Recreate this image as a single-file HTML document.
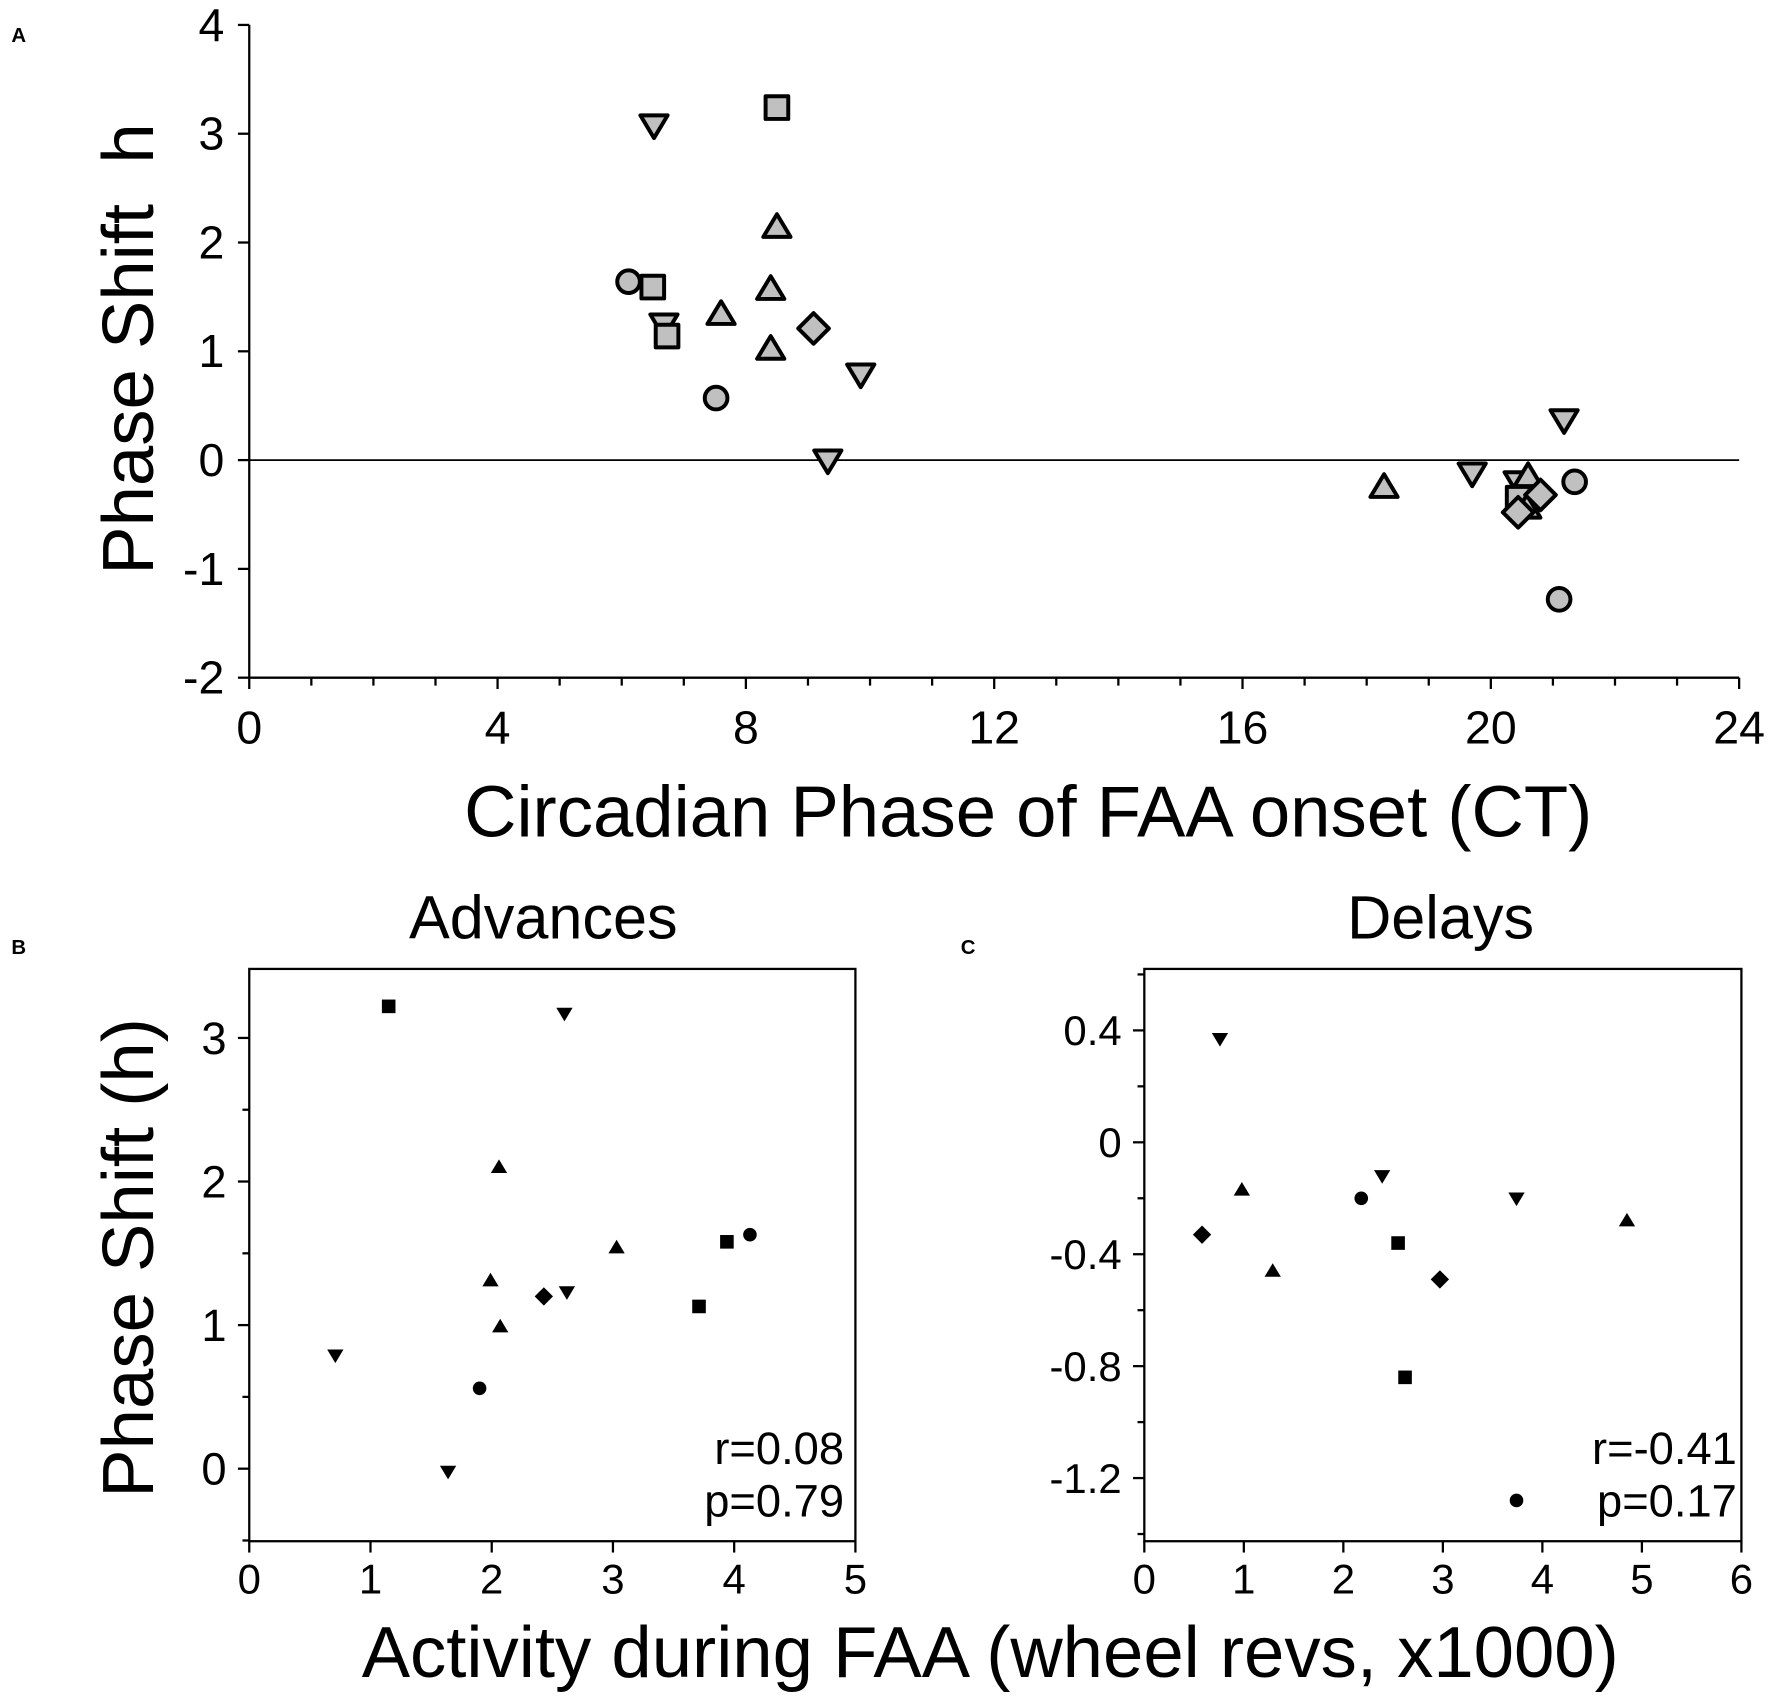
<!DOCTYPE html>
<html><head><meta charset="utf-8"><style>
body{margin:0;background:#fff}
svg text{font-family:"Liberation Sans",Arial,sans-serif;fill:#000;white-space:pre}
</style></head><body>
<svg id="fig" width="1772" height="1701" viewBox="0 0 1564 1501" preserveAspectRatio="none" xmlns="http://www.w3.org/2000/svg"></svg>
<script>
// Panel A data
const aShapes=['dtri','sq','tri','circ','sq','dtri','sq','tri','tri','tri','dia','dtri','circ','dtri','tri','dtri','dtri','circ','circ','dtri','tri','sq','tri','dia','dia'];
const aX=[6.52,8.5,8.5,6.11,6.5,6.68,6.73,7.6,8.4,8.4,9.09,9.85,7.52,9.32,18.28,19.7,21.18,21.35,21.1,20.44,20.6,20.44,20.58,20.8,20.44];
const aY=[3.08,3.24,2.14,1.64,1.59,1.25,1.14,1.34,1.57,1.02,1.21,0.79,0.57,0.0,-0.25,-0.12,0.37,-0.2,-1.28,-0.2,-0.15,-0.35,-0.44,-0.32,-0.48];
const aXTicks=[0,4,8,12,16,20,24];
const aYTicks=[-2,-1,0,1,2,3,4];
// Panel B data
const bShapes=['sq','dtri','tri','tri','tri','tri','dia','dtri','sq','circ','sq','dtri','circ','dtri'];
const bX=[1.15,2.6,2.06,1.99,2.07,3.03,2.43,2.62,3.94,4.13,3.71,0.71,1.9,1.64];
const bY=[3.22,3.17,2.1,1.31,0.99,1.54,1.2,1.23,1.58,1.63,1.13,0.79,0.56,-0.02];
const bXTicks=[0,1,2,3,4,5];
const bYTicks=[0,1,2,3];
// Panel C data
const cShapes=['dtri','tri','dia','tri','circ','dtri','sq','dia','sq','dtri','tri','circ'];
const cX=[0.76,0.98,0.58,1.29,2.18,2.39,2.55,2.97,2.62,3.74,4.85,3.74];
const cY=[0.37,-0.17,-0.33,-0.46,-0.2,-0.12,-0.36,-0.49,-0.84,-0.2,-0.28,-1.28];
const cXTicks=[0,1,2,3,4,5,6];
const cYTicks=[-1.2,-0.8,-0.4,0,0.4];

const svg=document.getElementById('fig');
const NS='http://www.w3.org/2000/svg';
function mk(tag,attrs,parent){const e=document.createElementNS(NS,tag);for(const k in attrs)e.setAttribute(k,attrs[k]);(parent||svg).appendChild(e);return e;}
function txt(s,x,y,size,anchor,parent,extra){const t=mk('text',Object.assign({x:x,y:y,'font-size':size,'text-anchor':anchor||'middle'},extra||{}),parent);t.textContent=s;return t;}
function marker(shape,cx,cy,r,fill,sw,g){
  let e;
  if(shape==='circ')e=mk('circle',{cx:cx,cy:cy,r:r},g);
  else if(shape==='sq')e=mk('rect',{x:cx-r,y:cy-r,width:2*r,height:2*r},g);
  else if(shape==='tri')e=mk('polygon',{points:`${cx},${cy-r*1.15} ${cx-r*1.2},${cy+r*0.85} ${cx+r*1.2},${cy+r*0.85}`},g);
  else if(shape==='dtri')e=mk('polygon',{points:`${cx},${cy+r*1.15} ${cx-r*1.2},${cy-r*0.85} ${cx+r*1.2},${cy-r*0.85}`},g);
  else e=mk('polygon',{points:`${cx},${cy-r*1.35} ${cx+r*1.35},${cy} ${cx},${cy+r*1.35} ${cx-r*1.35},${cy}`},g);
  e.setAttribute('fill',fill);e.setAttribute('stroke','#000');e.setAttribute('stroke-width',sw);
  e.setAttribute('stroke-linejoin','round');
  
  
  return e;
}

// ---- Panel A ----
const gA=mk('g',{});


const A={x0:220,x1:1535,y0:598,y1:22,xmin:0,xmax:24,ymin:-2,ymax:4};
const ax=v=>A.x0+(v-A.xmin)/(A.xmax-A.xmin)*(A.x1-A.x0);
const ay=v=>A.y0-(v-A.ymin)/(A.ymax-A.ymin)*(A.y0-A.y1);
mk('line',{x1:A.x0,y1:A.y1,x2:A.x0,y2:A.y0,stroke:'#000','stroke-width':2},gA);
mk('line',{x1:A.x0,y1:A.y0,x2:A.x1,y2:A.y0,stroke:'#000','stroke-width':2},gA);
mk('line',{x1:A.x0,y1:ay(0),x2:A.x1,y2:ay(0),stroke:'#000','stroke-width':1.5},gA);
for(let v=0;v<=24;v++){const x=ax(v);mk('line',{x1:x,y1:A.y0,x2:x,y2:A.y0+(v%4===0?10:7),stroke:'#000','stroke-width':2},gA);}
aXTicks.forEach(v=>txt(String(v),ax(v),A.y0+58,41,'middle',gA));
aYTicks.forEach(v=>{mk('line',{x1:A.x0-10,y1:ay(v),x2:A.x0,y2:ay(v),stroke:'#000','stroke-width':2},gA);txt(String(v),A.x0-22,ay(v)+14,41,'end',gA);});
txt('Circadian Phase of FAA onset (CT)',(A.x0+A.x1)/2+30,738,64,'middle',gA);
const yta=txt('Phase Shift  h',135,308,64,'middle',gA,{transform:'rotate(-90 135 308)'});

txt('A',10,37,18,'start',gA,{'font-weight':'bold'});
aX.forEach((v,i)=>marker(aShapes[i],ax(v),ay(aY[i]),10,'#c0c0c0',3.5,gA));

// ---- Panel B ----
const gB=mk('g',{});


const B={x0:220,x1:755,yTop:855,yBot:1360,xmin:0,xmax:5};
const bx=v=>B.x0+(v-B.xmin)/(B.xmax-B.xmin)*(B.x1-B.x0);
const by=v=>1296-v*126.7;
mk('rect',{x:B.x0,y:B.yTop,width:B.x1-B.x0,height:B.yBot-B.yTop,fill:'none',stroke:'#000','stroke-width':2},gB);
bXTicks.forEach(v=>{mk('line',{x1:bx(v),y1:B.yBot,x2:bx(v),y2:B.yBot+10,stroke:'#000','stroke-width':2},gB);txt(String(v),bx(v),B.yBot+46,37,'middle',gB);});
for(let v=-0.5;v<=3.5;v+=0.5){const y=by(v);if(y<B.yTop||y>B.yBot)continue;const maj=Math.abs(v-Math.round(v))<0.01;mk('line',{x1:B.x0-(maj?10:6),y1:y,x2:B.x0,y2:y,stroke:'#000','stroke-width':2},gB);}
bYTicks.forEach(v=>txt(String(v),B.x0-20,by(v)+14,40,'end',gB));
txt('Advances',(B.x0+B.x1)/2-8,828,54,'middle',gB);
txt('r=0.08',745,1292,40,'end',gB);
txt('p=0.79',745,1338,40,'end',gB);
txt('B',10,842,18,'start',gB,{'font-weight':'bold'});
bX.forEach((v,i)=>marker(bShapes[i],bx(v),by(bY[i]),6,'#000',0,gB));

// ---- Panel C ----
const gC=mk('g',{});


const C={x0:1010,x1:1537,yTop:855,yBot:1360,xmin:0,xmax:6};
const cx_=v=>C.x0+(v-C.xmin)/(C.xmax-C.xmin)*(C.x1-C.x0);
const cy_=v=>1008-v*246.9;
mk('rect',{x:C.x0,y:C.yTop,width:C.x1-C.x0,height:C.yBot-C.yTop,fill:'none',stroke:'#000','stroke-width':2},gC);
cXTicks.forEach(v=>{mk('line',{x1:cx_(v),y1:C.yBot,x2:cx_(v),y2:C.yBot+10,stroke:'#000','stroke-width':2},gC);txt(String(v),cx_(v),C.yBot+46,37,'middle',gC);});
for(let k=-7;k<=3;k++){const v=k*0.2;const y=cy_(v);if(y<C.yTop||y>C.yBot)continue;const maj=k%2===0;mk('line',{x1:C.x0-(maj?10:6),y1:y,x2:C.x0,y2:y,stroke:'#000','stroke-width':2},gC);}
cYTicks.forEach(v=>txt(v===0?'0':v.toFixed(1),C.x0-20,cy_(v)+13,37,'end',gC));
txt('Delays',(C.x0+C.x1)/2-2,828,54,'middle',gC);
txt('r=-0.41',1533,1292,40,'end',gC);
txt('p=0.17',1533,1338,40,'end',gC);
txt('C',848,842,18,'start',gC,{'font-weight':'bold'});
cX.forEach((v,i)=>marker(cShapes[i],cx_(v),cy_(cY[i]),6,'#000',0,gC));

// shared labels
const ytb=txt('Phase Shift (h)',135,1110,64,'middle',svg,{transform:'rotate(-90 135 1110)'});

const xtb=txt('Activity during FAA (wheel revs, x1000)',874,1480,64,'middle');

</script>
</body></html>
